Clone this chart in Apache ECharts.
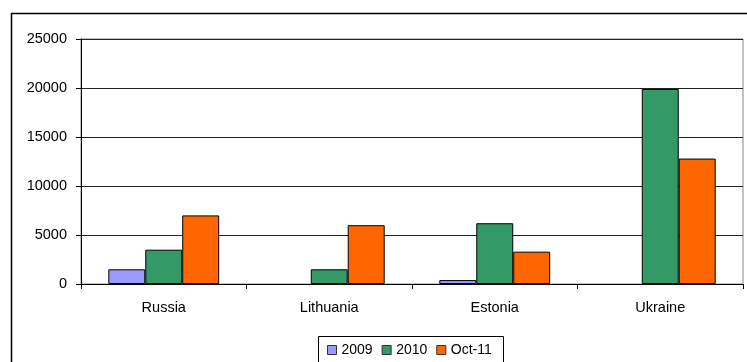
<!DOCTYPE html>
<html>
<head>
<meta charset="utf-8">
<style>
  html, body { margin: 0; padding: 0; background: #fff; }
  #chart { width: 747px; height: 362px; }
</style>
<script src="https://cdn.jsdelivr.net/npm/echarts@6/dist/echarts.min.js"></script>
</head>
<body>
<div id="chart"></div>
<script>
// Countries and yearly values
var categories = ['Russia', 'Lithuania', 'Estonia', 'Ukraine'];
var seriesNames = ['2009', '2010', 'Oct-11'];
var values2009 = [1500, null, 400, null];
var values2010 = [3500, 1500, 6200, 19900];
var valuesOct11 = [7000, 6000, 3300, 12800];
var yTicks = [0, 5000, 10000, 15000, 20000, 25000];

var colors = ['#9999FF', '#339966', '#FF6600'];
var font = 'Liberation Sans, Arial, sans-serif';

var chart = echarts.init(document.getElementById('chart'), null, { renderer: 'canvas' });

function barSeries(name, data, color) {
  return {
    name: name,
    type: 'bar',
    data: data,
    barGap: '0%',
    barCategoryGap: '33%',
    itemStyle: { color: color, borderColor: '#000', borderWidth: 1 },
    emphasis: { disabled: true }
  };
}

chart.setOption({
  animation: false,
  textStyle: { fontFamily: font },
  grid: {
    left: 81, top: 39, right: 4, bottom: 78,
    show: true, borderColor: '#888', borderWidth: 1
  },
  legend: {
    data: seriesNames,
    left: 327, top: 343,
    padding: 0,
    itemWidth: 9, itemHeight: 9, itemGap: 9,
    icon: 'rect',
    itemStyle: { borderColor: '#333', borderWidth: 1 },
    textStyle: { fontSize: 14, color: '#000', fontFamily: font }
  },
  graphic: [
    { type: 'rect', shape: { x: 11.5, y: 13.5, width: 760, height: 400 },
      style: { fill: null, stroke: '#000', lineWidth: 1.5 }, silent: true, z: -1 },
    { type: 'rect', shape: { x: 318.5, y: 336.5, width: 185, height: 40 },
      style: { fill: null, stroke: '#000', lineWidth: 1 }, silent: true }
  ],
  xAxis: {
    type: 'category',
    data: categories,
    axisLine: { lineStyle: { color: '#000', width: 1 } },
    axisTick: { show: true, length: 5, lineStyle: { color: '#000' } },
    axisLabel: { fontSize: 14.5, color: '#000', margin: 16, fontFamily: font }
  },
  yAxis: {
    type: 'value',
    min: yTicks[0], max: yTicks[yTicks.length - 1], interval: 5000,
    axisLine: { show: true, lineStyle: { color: '#000', width: 1 } },
    axisTick: { show: true, length: 5, lineStyle: { color: '#000' } },
    axisLabel: {
      fontSize: 14.5, color: '#000', margin: 14, fontFamily: font,
      formatter: function (v) { return String(v); }
    },
    splitLine: { lineStyle: { color: '#222', width: 1 } }
  },
  series: [
    barSeries(seriesNames[0], values2009, colors[0]),
    barSeries(seriesNames[1], values2010, colors[1]),
    barSeries(seriesNames[2], valuesOct11, colors[2])
  ]
});
</script>
</body>
</html>
